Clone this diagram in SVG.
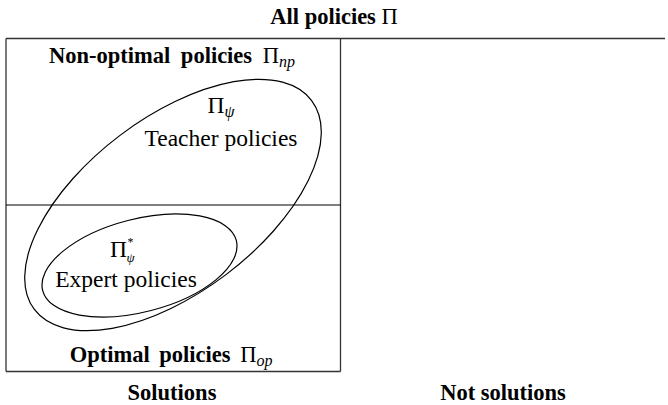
<svg xmlns="http://www.w3.org/2000/svg" width="668" height="405" viewBox="0 0 668 405">
<style>
text{font-family:"Liberation Serif","Times New Roman",serif;fill:#000}
.b{font-weight:bold;font-size:22.5px}
.r{font-size:23.5px}
.m{font-weight:normal}
.sub{font-style:italic;font-size:16px;font-weight:normal}
.grid{stroke:#333;stroke-width:1.3;fill:none}
.set{stroke:#000;stroke-width:1.2;fill:none}
</style>
<rect width="668" height="405" fill="#fff"/>
<g id="grid" class="grid">
<line x1="6" y1="38.5" x2="665" y2="38.5"/>
<line x1="6" y1="38.5" x2="6" y2="371.5"/>
<line x1="340.5" y1="38.5" x2="340.5" y2="371.5"/>
<line x1="6" y1="205" x2="340.5" y2="205" stroke="#000" stroke-width="1.1"/>
<line x1="6" y1="371.5" x2="340.5" y2="371.5"/>
</g>
<g id="title"><text class="b" x="334" y="24" text-anchor="middle" font-size="19.5px">All policies <tspan class="m">Π</tspan></text></g>
<g id="non-optimal"><text class="b" x="172" y="63" text-anchor="middle" font-size="23px" word-spacing="5">Non-optimal policies <tspan class="m">Π</tspan><tspan class="sub" dy="4">np</tspan></text></g>
<g id="teacher">
<ellipse class="set" cx="173" cy="205" rx="173.6" ry="87.5" transform="rotate(-37 173 205)"/>
<text class="r" x="221" y="113" text-anchor="middle">Π<tspan class="sub" dy="4">ψ</tspan></text>
<text class="r" x="221" y="146" text-anchor="middle">Teacher policies</text>
</g>
<g id="expert">
<ellipse class="set" cx="139.5" cy="265.5" rx="100" ry="46.5" transform="rotate(-14.5 139.5 265.5)"/>
<text class="r" x="110" y="257">Π</text>
<text x="127.5" y="246" font-size="12px">*</text>
<text x="126.5" y="262" font-size="13px" font-style="italic">ψ</text>
<text class="r" x="126" y="287" text-anchor="middle">Expert policies</text>
</g>
<g id="optimal"><text class="b" x="171" y="362" text-anchor="middle" word-spacing="4">Optimal policies <tspan class="m">Π</tspan><tspan class="sub" dy="4">op</tspan></text></g>
<g id="solutions"><text class="b" x="172" y="400" text-anchor="middle">Solutions</text></g>
<g id="not-solutions"><text class="b" x="503" y="400" text-anchor="middle">Not solutions</text></g>
<g id="connectors"/>
</svg>
